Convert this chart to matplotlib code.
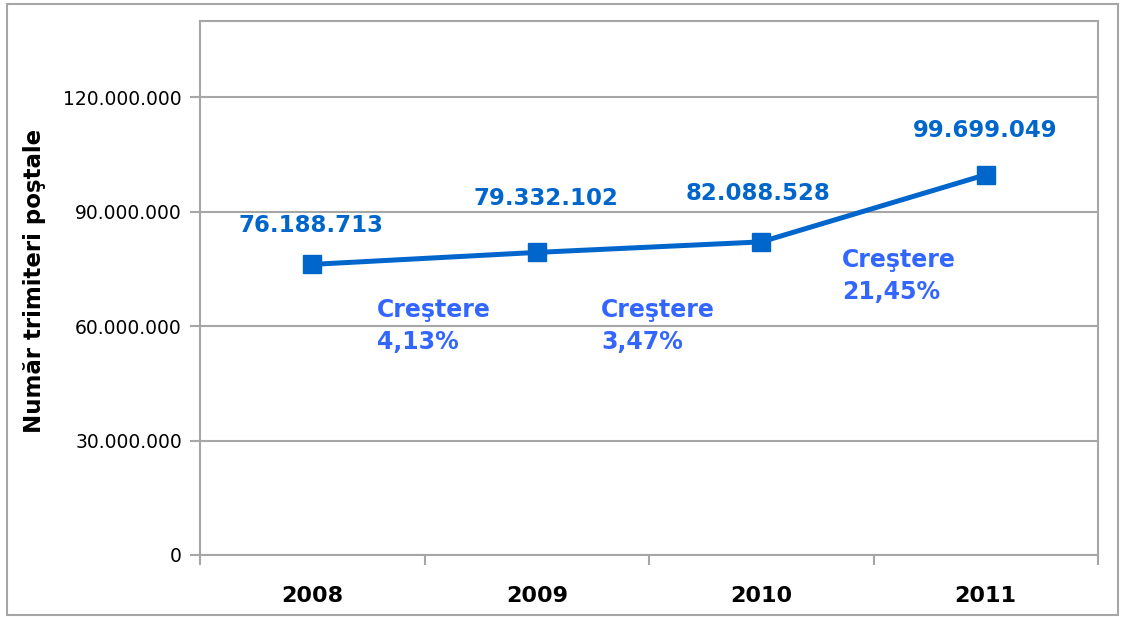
import matplotlib
matplotlib.use("Agg")
import matplotlib.pyplot as plt
from matplotlib.patches import Rectangle
from matplotlib.ticker import FuncFormatter, FixedLocator

years = ["2008", "2009", "2010", "2011"]
values = [76188713, 79332102, 82088528, 99699049]
value_labels = ["76.188.713", "79.332.102", "82.088.528", "99.699.049"]
growth_labels = ["Creştere\n4,13%", "Creştere\n3,47%", "Creştere\n21,45%"]

LINE_BLUE = "#0066CC"
TEXT_BLUE = "#3366FF"
GRID = "#A6A6A6"

fig = plt.figure(figsize=(11.25, 6.17), dpi=100)
ax = fig.add_axes([200 / 1125, 1 - 555 / 617, 898 / 1125, 534 / 617])

x = list(range(len(years)))
ax.plot(x, values, color=LINE_BLUE, lw=3.6, marker="s", ms=13,
        markerfacecolor=LINE_BLUE, markeredgecolor=LINE_BLUE, zorder=3)

ax.set_xlim(-0.5, len(years) - 0.5)
ax.set_ylim(0, 140_000_000)
ax.yaxis.set_major_locator(FixedLocator([0, 30e6, 60e6, 90e6, 120e6]))
ax.yaxis.set_major_formatter(FuncFormatter(lambda v, p: f"{int(v):,}".replace(",", ".")))
ax.grid(axis="y", color=GRID, lw=1.5)
ax.set_axisbelow(True)

ax.set_xticks(x)
ax.set_xticklabels(years, fontsize=16, fontweight="bold")
ax.set_xticks([i - 0.5 for i in range(len(years) + 1)], minor=True)
ax.tick_params(axis="x", which="major", length=0, pad=22)
ax.tick_params(axis="x", which="minor", length=7, width=1.5, color=GRID)
ax.tick_params(axis="y", length=7, width=1.5, color=GRID, labelsize=13.5, pad=6)
for s in ax.spines.values():
    s.set_color(GRID)
    s.set_linewidth(1.5)

ax.set_ylabel("Număr trimiteri poştale", fontsize=16.5, fontweight="bold")
ax.yaxis.set_label_coords(-0.172, 0.513)

# value labels above each marker (offsets in pixels)
label_offsets = [(-1, 39), (9, 54), (-3, 48), (-1, 44)]
for xi, v, lab, off in zip(x, values, value_labels, label_offsets):
    ax.annotate(lab, (xi, v), xytext=off, textcoords="offset pixels",
                ha="center", va="center", fontsize=16.5, fontweight="bold", color=LINE_BLUE)

# growth annotations between years
growth_pos = [(0.288, 60.0e6), (1.286, 60.0e6), (2.36, 73.1e6)]
for (gx, gy), lab in zip(growth_pos, growth_labels):
    ax.text(gx, gy, lab, ha="left", va="center", fontsize=17, fontweight="bold",
            color=TEXT_BLUE, linespacing=1.4)

# outer chart border
fig.patches.append(Rectangle((7 / 1125, 2 / 617), 1111 / 1125, 611 / 617,
                             transform=fig.transFigure, fill=False,
                             edgecolor=GRID, lw=1.5))

fig.savefig("out.png", dpi=100)
